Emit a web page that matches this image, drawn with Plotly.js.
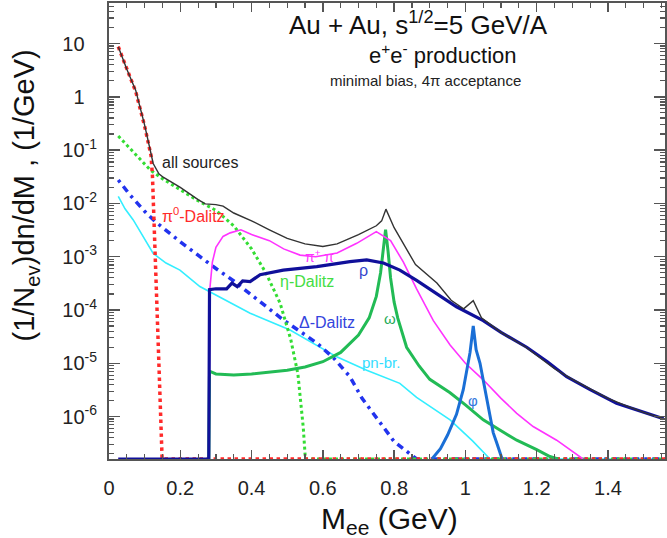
<!DOCTYPE html>
<html>
<head>
<meta charset="utf-8">
<script src="https://cdn.plot.ly/plotly-3.0.1.min.js"></script>
<style>html,body{margin:0;padding:0;background:#fff;}#chart{width:667px;height:538px;}</style>
</head>
<body>
<div id="chart"></div>
<script>
// ---- data (x = Mee in GeV, y = dn/dM per event) ----
const FLOOR = 1.6e-7; // curves resting on the bottom axis

const total_x = [0.026,0.05,0.075,0.10,0.124,0.14,0.152,0.20,0.25,0.27,0.30,0.32,0.35,0.40,0.45,0.50,0.55,0.60,0.64,0.70,0.75,0.765,0.777,0.79,0.80,0.86,0.92,0.96,0.995,1.022,1.045,1.10,1.17,1.25,1.30,1.35,1.40,1.45,1.50,1.556];
const total_y = [8.7,3.3,1.32,0.295,0.056,0.036,0.031,0.020,0.0118,0.0098,0.0095,0.0089,0.0066,0.0047,0.0032,0.0022,0.00174,0.00155,0.00174,0.0026,0.0038,0.0047,0.0078,0.0048,0.0035,0.00071,0.00032,0.000152,0.000105,0.000150,0.000071,0.000038,0.000020,0.0000079,0.0000050,0.0000033,0.0000022,0.0000016,0.0000012,0.00000091];

const pi0_x = [0.026,0.05,0.075,0.10,0.118,0.122,0.126,0.13,0.135,0.141,0.149,1.56];
const pi0_y = [8.7,3.2,1.25,0.28,0.079,0.032,0.0063,0.001,0.0001,0.0000063,FLOOR,FLOOR];

const eta_x = [0.026,0.05,0.08,0.115,0.15,0.20,0.25,0.30,0.35,0.40,0.44,0.48,0.51,0.53,0.545,0.551,1.56];
const eta_y = [0.184,0.126,0.076,0.043,0.029,0.018,0.0112,0.0074,0.0038,0.0014,0.0005,0.000135,0.000028,0.0000063,0.00000063,FLOOR,FLOOR];

const delta_x = [0.026,0.06,0.10,0.129,0.20,0.255,0.30,0.35,0.396,0.45,0.489,0.54,0.583,0.63,0.676,0.71,0.76,0.80,0.863,1.56];
const delta_y = [0.0275,0.0141,0.0071,0.0046,0.0019,0.001,0.0006,0.00035,0.0002,0.000107,0.000065,0.000038,0.000024,0.0000126,0.0000056,0.0000022,0.00000079,0.00000034,FLOOR,FLOOR];

const pn_x = [0.026,0.045,0.068,0.095,0.124,0.16,0.199,0.255,0.30,0.396,0.508,0.639,0.723,0.816,0.863,0.957,1.02,1.069,1.56];
const pn_y = [0.0135,0.0079,0.0049,0.0025,0.00115,0.00076,0.00056,0.000275,0.00019,0.000087,0.000042,0.0000132,0.0000074,0.0000042,0.0000023,0.00000087,0.00000035,FLOOR,FLOOR];

const pipi_x = [0.026,0.28,0.283,0.29,0.30,0.32,0.34,0.37,0.40,0.45,0.49,0.536,0.58,0.64,0.695,0.75,0.79,0.826,0.863,0.91,0.957,1.0,1.05,1.10,1.144,1.19,1.256,1.30,1.33];
const pipi_y = [FLOOR,FLOOR,0.00025,0.00079,0.0015,0.0024,0.0028,0.0032,0.0026,0.002,0.0014,0.00107,0.001,0.00117,0.00178,0.00295,0.002,0.00079,0.00025,0.000063,0.000022,0.00001,0.0000049,0.0000022,0.00000115,0.00000065,0.00000036,0.00000022,FLOOR];

const rho_x = [0.026,0.28,0.282,0.30,0.33,0.345,0.36,0.375,0.396,0.424,0.489,0.583,0.676,0.723,0.77,0.816,0.863,0.919,0.975,1.05,1.10,1.172,1.23,1.284,1.35,1.424,1.49,1.556];
const rho_y = [FLOOR,FLOOR,0.00024,0.00025,0.00025,0.00032,0.000275,0.00035,0.00034,0.00046,0.00056,0.00065,0.00081,0.00087,0.00076,0.00056,0.00036,0.0002,0.000115,0.000063,0.000038,0.00002,0.0000107,0.0000056,0.0000032,0.00000178,0.00000126,0.00000091];

const omega_x = [0.28,0.282,0.30,0.35,0.40,0.45,0.50,0.55,0.60,0.65,0.70,0.73,0.75,0.762,0.77,0.776,0.783,0.79,0.80,0.81,0.835,0.87,0.90,0.957,1.0,1.05,1.10,1.144,1.20,1.237,1.26];
const omega_y = [FLOOR,0.0000071,0.0000063,0.000006,0.0000063,0.0000068,0.0000074,0.0000085,0.0000107,0.000016,0.000034,0.000071,0.00018,0.0005,0.00135,0.0032,0.00126,0.0004,0.00014,0.000071,0.00002,0.0000089,0.000005,0.0000028,0.00000166,0.00000087,0.00000054,0.00000036,0.00000024,0.000000178,FLOOR];

const phi_x = [0.906,0.93,0.95,0.975,0.994,1.005,1.013,1.022,1.03,1.041,1.06,1.078,1.088,1.103];
const phi_y = [FLOOR,0.00000025,0.00000045,0.0000011,0.0000032,0.0000079,0.000016,0.00005,0.000018,0.00001,0.0000022,0.0000005,0.00000032,FLOOR];

const xTickVals = [0,0.2,0.4,0.6,0.8,1,1.2,1.4];
const xTickText = ["0","0.2","0.4","0.6","0.8","1","1.2","1.4"];
const yTickVals = [1e-6,1e-5,1e-4,1e-3,1e-2,1e-1,1,10];
const hid = "<sup><span style='color:rgba(0,0,0,0)'>-1</span></sup>";
const yTickText = ["10<sup>-6</sup>","10<sup>-5</sup>","10<sup>-4</sup>","10<sup>-3</sup>","10<sup>-2</sup>","10<sup>-1</sup>","1"+hid,"10"+hid];

// curve labels: [text, x, log10(y), color, size, xanchor]
const labels = [
  ["all sources",0.143,-1.24,"#222222",16,"left"],
  ["π<sup>0</sup>-Dalitz",0.143,-2.22,"#ff2a2a",16,"left"],
  ["π<sup>+</sup> π<sup>-</sup>",0.545,-2.98,"#ff33ff",14,"left"],
  ["ρ",0.714,-3.25,"#3344cc",16,"center"],
  ["η-Dalitz",0.475,-3.47,"#44dd44",16,"left"],
  ["ω",0.788,-4.16,"#22aa55",15,"center"],
  ["Δ-Dalitz",0.527,-4.24,"#3344dd",16,"left"],
  ["pn-br.",0.704,-4.99,"#33ddff",15,"left"],
  ["φ",1.022,-5.69,"#3377dd",15,"center"]
];

// ---- traces ----
function tr(x, y, color, width, dash){
  return {x:x, y:y, type:'scatter', mode:'lines', hoverinfo:'skip',
          line:{color:color, width:width, dash:dash||'solid'}};
}
const data = [
  tr(pn_x, pn_y, '#33eeff', 1.6),
  tr(delta_x, delta_y, '#2233ee', 3.5, '3px,5px,7px,5px'),
  tr(eta_x, eta_y, '#33dd33', 3, 'dot'),
  tr(pi0_x, pi0_y, '#ff2a2a', 3.5, 'dot'),
  tr(omega_x, omega_y, '#22bb55', 3),
  tr(pipi_x, pipi_y, '#ff33ff', 1.6),
  tr(rho_x, rho_y, '#10109a', 3.2),
  tr(phi_x, phi_y, '#1a6fd6', 3),
  tr(total_x, total_y, '#333333', 1.4)
];

const FONT = "Liberation Sans, Arial, Helvetica, sans-serif";
const minorY = [];
for (let e = -7; e <= 1; e++) for (let m = 2; m <= 9; m++) minorY.push(m * Math.pow(10, e));

const annotations = labels.map(l => ({
  text:l[0], x:l[1], y:l[2], xref:'x', yref:'y', showarrow:false,
  xanchor:l[5], yanchor:'middle', font:{family:FONT, size:l[4], color:l[3]}
}));
annotations.push(
  {text:"Au + Au, s<sup>1/2</sup>=5 GeV/A", xref:'paper', yref:'paper', x:0.32, y:0.954, showarrow:false,
   xanchor:'left', yanchor:'middle', font:{family:FONT, size:26, color:'#111'}},
  {text:"e<sup>+</sup>e<sup>-</sup> production", xref:'paper', yref:'paper', x:0.60, y:0.889, showarrow:false,
   xanchor:'center', yanchor:'middle', font:{family:FONT, size:22, color:'#111'}},
  {text:"minimal bias, 4π acceptance", xref:'paper', yref:'paper', x:0.57, y:0.829, showarrow:false,
   xanchor:'center', yanchor:'middle', font:{family:FONT, size:15, color:'#222'}},
  {text:"(1/N<sub>ev</sub>)dn/dM , (1/GeV)", xref:'paper', yref:'paper', x:-0.15, y:0.577, showarrow:false,
   textangle:-90, xanchor:'center', yanchor:'middle', font:{family:FONT, size:29, color:'#111'}},
  {text:"M<sub>ee</sub> (GeV)", xref:'paper', yref:'paper', x:0.505, y:-0.135, showarrow:false,
   xanchor:'center', yanchor:'middle', font:{family:FONT, size:30, color:'#111'}}
);

const axisCommon = {showgrid:false, zeroline:false, showline:true, linecolor:'#555', linewidth:2,
  ticks:'inside', tickcolor:'#555', tickwidth:1.5, mirror:'allticks',
  tickfont:{family:FONT, size:20, color:'#222'}};

const layout = {
  width:667, height:538,
  margin:{l:109, r:2, t:3, b:79, pad:0},
  paper_bgcolor:'#fff', plot_bgcolor:'#fff',
  showlegend:false,
  xaxis:Object.assign({}, axisCommon, {
    range:[0,1.56], tickmode:'array', tickvals:xTickVals, ticktext:xTickText, ticklen:9,
    ticklabelstandoff:10,
    minor:{dtick:0.05, tick0:0, ticks:'inside', ticklen:5, tickcolor:'#555', tickwidth:1.2}
  }),
  yaxis:Object.assign({}, axisCommon, {
    type:'log', range:[-6.796,1.76], tickmode:'array', tickvals:yTickVals, ticktext:yTickText, ticklen:11,
    ticklabelstandoff:6,
    minor:{tickmode:'array', tickvals:minorY, ticks:'inside', ticklen:5, tickcolor:'#555', tickwidth:1.2}
  }),
  annotations:annotations
};

Plotly.newPlot('chart', data, layout, {staticPlot:true, displayModeBar:false});
</script>
</body>
</html>
